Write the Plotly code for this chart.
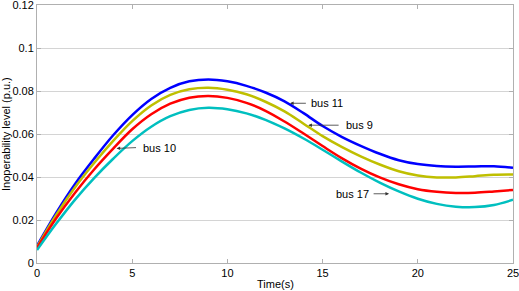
import plotly.graph_objects as go

t = list(range(0, 26))
bus11 = [0.008, 0.0232, 0.0368, 0.0485, 0.0594, 0.0688, 0.0763, 0.0815, 0.0845, 0.0854,
         0.0845, 0.0824, 0.0793, 0.0752, 0.0697, 0.0637, 0.0587, 0.0545, 0.0508, 0.0478,
         0.0460, 0.0451, 0.0448, 0.0449, 0.0450, 0.0443]
bus9 = [0.0075, 0.0222, 0.0352, 0.0465, 0.0568, 0.0660, 0.0733, 0.0782, 0.0808, 0.0815,
        0.0806, 0.0785, 0.0750, 0.0705, 0.0648, 0.0590, 0.0540, 0.0496, 0.0458, 0.0427,
        0.0407, 0.0398, 0.0398, 0.0404, 0.0411, 0.0412]
bus10 = [0.007, 0.0207, 0.0327, 0.0435, 0.0532, 0.0622, 0.0692, 0.0741, 0.0769, 0.0777,
         0.0768, 0.0745, 0.0708, 0.0658, 0.0602, 0.0544, 0.0488, 0.0439, 0.0398, 0.0366,
         0.0343, 0.0331, 0.0326, 0.0327, 0.0333, 0.0340]
bus17 = [0.006, 0.0182, 0.0295, 0.0395, 0.0485, 0.0567, 0.0634, 0.0683, 0.0712, 0.0722,
         0.0715, 0.0696, 0.0666, 0.0626, 0.0579, 0.0527, 0.0473, 0.0421, 0.0374, 0.0333,
         0.0299, 0.0275, 0.0262, 0.0260, 0.0270, 0.0294]

x_ticks = [0, 5, 10, 15, 20, 25]
y_ticks = [0, 0.02, 0.04, 0.06, 0.08, 0.1, 0.12]
y_tick_labels = ["0", "0.02", "0.04", "0.06", "0.08", "0.1", "0.12"]

series = [
    ("bus 11", bus11, "#0000ff"),
    ("bus 9", bus9, "#bfbf00"),
    ("bus 10", bus10, "#ff0000"),
    ("bus 17", bus17, "#00bfbf"),
]

fig = go.Figure()
for name, vals, color in series:
    fig.add_trace(go.Scatter(x=t, y=vals, mode="lines", name=name,
                             line=dict(color=color, width=2.5, shape="spline", smoothing=1.0)))

FONT = "Liberation Sans, Arial, sans-serif"
# labels: (text, text_x, text_y, tail_x, tail_y, head_x, head_y)
labels = [
    ("bus 11", 15.25, 0.0743, 14.2, 0.0743, 13.29, 0.0743),
    ("bus 9", 16.92, 0.0641, 15.92, 0.0641, 14.25, 0.0641),
    ("bus 10", 6.41, 0.0535, 5.28, 0.0537, 4.18, 0.0533),
    ("bus 17", 16.58, 0.0322, 17.6, 0.0322, 18.49, 0.0322),
]
for txt, tx, ty, ax_, ay_, hx, hy in labels:
    fig.add_annotation(x=tx, y=ty, text=txt, showarrow=False,
                       font=dict(family=FONT, size=11, color="#000000"))
    fig.add_annotation(x=hx, y=hy, ax=ax_, ay=ay_, axref="x", ayref="y", text="",
                       showarrow=True, arrowhead=2, arrowsize=0.9, arrowwidth=0.8,
                       arrowcolor="#333333")

# axis titles as paper annotations
fig.add_annotation(xref="paper", yref="paper", x=0.5, y=0, yshift=-20.5,
                   xanchor="center", yanchor="middle", text="Time(s)", showarrow=False,
                   font=dict(family=FONT, size=11, color="#000000"))
fig.add_annotation(xref="paper", yref="paper", x=0, y=0.5, xshift=-31,
                   xanchor="center", yanchor="middle", textangle=-90,
                   text="Inoperability level (p.u.)", showarrow=False,
                   font=dict(family=FONT, size=11, color="#000000"))

fig.update_layout(
    width=519, height=291,
    margin=dict(l=37, r=6, t=5, b=28, autoexpand=False),
    paper_bgcolor="white", plot_bgcolor="white",
    showlegend=False,
    font=dict(family=FONT, size=11, color="#000000"),
)
fig.update_xaxes(range=[0, 25.0001], tickvals=x_ticks, showgrid=False, zeroline=False,
                 showline=True, linecolor="#b0b0b0", linewidth=1, mirror="ticks",
                 ticks="inside", ticklen=4, tickcolor="#b0b0b0", automargin=False,
                 ticklabeloverflow="allow")
fig.update_yaxes(range=[0, 0.120001], tickvals=y_ticks, ticktext=y_tick_labels,
                 showgrid=True, gridcolor="#d4d4d4", gridwidth=1, zeroline=False,
                 showline=True, linecolor="#b0b0b0", linewidth=1, mirror="ticks",
                 ticks="inside", ticklen=4, tickcolor="#b0b0b0", automargin=False,
                 ticklabeloverflow="allow")

fig.write_html("out.html", config={"displayModeBar": False},
               post_script="document.body.style.margin='0';document.body.style.overflow='hidden';")
